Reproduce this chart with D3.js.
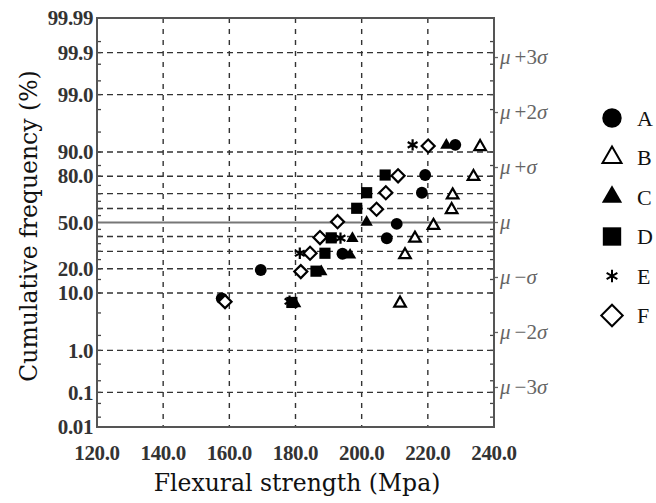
<!DOCTYPE html>
<html><head><meta charset="utf-8">
<script src="https://cdn.jsdelivr.net/npm/d3@7"></script>
<style>html,body{margin:0;padding:0;background:#fff;}svg{display:block;}
.tick{font-family:"Liberation Serif";font-weight:bold;font-size:21px;fill:#333;letter-spacing:-0.4px;}
.title{font-family:"DejaVu Serif";font-size:23.5px;fill:#111;}
.sig{font-family:"Liberation Serif";font-size:21px;fill:#666;}
.leg{font-family:"Liberation Serif";font-size:22px;fill:#111;}
</style>
</head><body>
<script>
// ---- data ----
const seriesNames = ["A","B","C","D","E","F"];
const seriesA = [[157.7,8.4],[169.5,19.4],[194.2,28.5],[207.6,38.7],[210.6,49.0],[218.2,70.6],[219.2,80.6],[228.3,92.1]];
const seriesB = [[211.6,7.1],[213.1,27.8],[216.1,38.7],[221.7,47.8],[227.2,59.2],[227.5,69.1],[233.8,79.8],[235.8,91.6]];
const seriesC = [[179.9,7.0],[187.8,18.6],[196.5,27.7],[197.2,38.6],[201.5,50.2],[225.6,92.0]];
const seriesD = [[178.9,7.3],[186.2,18.8],[188.9,28.8],[190.8,39.0],[198.5,60.2],[201.5,70.6],[207.1,80.6]];
const seriesE = [[178.2,7.6],[181.3,28.8],[193.6,38.8],[215.4,92.1]];
const seriesF = [[158.7,7.5],[181.6,18.6],[184.4,28.8],[187.4,39.2],[192.7,50.6],[204.5,59.5],[207.3,70.6],[211.0,80.2],[220.1,91.8]];
const xTicks = [120,140,160,180,200,220,240];
const xTickLabels = ["120.0","140.0","160.0","180.0","200.0","220.0","240.0"];
const yTicks = [0.01,0.1,1,10,20,50,80,90,99,99.9,99.99];
const yTickLabels = ["0.01","0.1","1.0","10.0","20.0","50.0","80.0","90.0","99.0","99.9","99.99"];
const yGrid = [0.1,1,10,20,30,40,60,70,80,90,99,99.9];
const sigmaLevels = [-3,-2,-1,0,1,2,3];
const sigmaOps = ["−3","−2","−","","+","+2","+3"];
const yMinorTicks = [0.02,0.05,0.2,0.5,2,5,15,25,35,45,55,65,75,85,95,98,99.5,99.8,99.95];

// inverse normal CDF (probability-paper transform)
function probit(p){
  const a=[-3.969683028665376e+01,2.209460984245205e+02,-2.759285104469687e+02,1.383577518672690e+02,-3.066479806614716e+01,2.506628277459239e+00];
  const b=[-5.447609879822406e+01,1.615858368580409e+02,-1.556989798598866e+02,6.680131188771972e+01,-1.328068155288572e+01];
  const c=[-7.784894002430293e-03,-3.223964580411365e-01,-2.400758277161838e+00,-2.549671010485432e+00,4.374664141464968e+00,2.938163982698783e+00];
  const d=[7.784695709041462e-03,3.224671290700398e-01,2.445134137142996e+00,3.754408661907416e+00];
  const pl=0.02425, ph=1-pl; let q,r;
  if(p<pl){q=Math.sqrt(-2*Math.log(p));return (((((c[0]*q+c[1])*q+c[2])*q+c[3])*q+c[4])*q+c[5])/((((d[0]*q+d[1])*q+d[2])*q+d[3])*q+1);}
  if(p<=ph){q=p-0.5;r=q*q;return (((((a[0]*r+a[1])*r+a[2])*r+a[3])*r+a[4])*r+a[5])*q/(((((b[0]*r+b[1])*r+b[2])*r+b[3])*r+b[4])*r+1);}
  q=Math.sqrt(-2*Math.log(1-p));return -(((((c[0]*q+c[1])*q+c[2])*q+c[3])*q+c[4])*q+c[5])/((((d[0]*q+d[1])*q+d[2])*q+d[3])*q+1);
}

const W=656,H=503;
const L=97,R=494,T=18,B=427;
const x = d3.scaleLinear().domain([120,240]).range([L,R]);
const zScale = d3.scaleLinear().domain([probit(0.0001),probit(0.9999)]).range([B,T]);
const y = pct => zScale(probit(pct/100));

const svg = d3.select("body").append("svg").attr("width",W).attr("height",H);
svg.append("rect").attr("width",W).attr("height",H).attr("fill","#fff");

// grid
const g = svg.append("g");
g.selectAll(".hg").data(yGrid).enter().append("line")
  .attr("x1",L).attr("x2",R).attr("y1",d=>y(d)).attr("y2",d=>y(d))
  .attr("stroke","#333").attr("stroke-width",1.4).attr("stroke-dasharray","6,4");
g.append("line").attr("x1",L).attr("x2",R).attr("y1",y(50)).attr("y2",y(50))
  .attr("stroke","#777").attr("stroke-width",2);
g.selectAll(".vg").data(xTicks.slice(1,-1)).enter().append("line")
  .attr("x1",d=>x(d)).attr("x2",d=>x(d)).attr("y1",T).attr("y2",B)
  .attr("stroke","#333").attr("stroke-width",1.4).attr("stroke-dasharray","5,6");

// minor ticks on inner side of left/right axes
g.selectAll(".ml").data(yMinorTicks.concat(yGrid)).enter().append("line")
  .attr("x1",L).attr("x2",L+4).attr("y1",d=>y(d)).attr("y2",d=>y(d))
  .attr("stroke","#444").attr("stroke-width",1.3);
g.selectAll(".mr").data(yMinorTicks.concat(yGrid)).enter().append("line")
  .attr("x1",R-4).attr("x2",R).attr("y1",d=>y(d)).attr("y2",d=>y(d))
  .attr("stroke","#444").attr("stroke-width",1.3);
g.selectAll(".sr").data(sigmaLevels).enter().append("line")
  .attr("x1",R).attr("x2",R+4).attr("y1",d=>zScale(d)).attr("y2",d=>zScale(d))
  .attr("stroke","#666").attr("stroke-width",1.3);

// frame
svg.append("rect").attr("x",L).attr("y",T).attr("width",R-L).attr("height",B-T)
  .attr("fill","none").attr("stroke","#555").attr("stroke-width",2);

// y tick labels
svg.selectAll(".yl").data(yTicks).enter().append("text").attr("class","tick")
  .attr("x",L-4).attr("y",d=>y(d)).attr("dy","0.34em").attr("text-anchor","end")
  .text((d,i)=>yTickLabels[i]);

// x tick labels
svg.selectAll(".xl").data(xTicks).enter().append("text").attr("class","tick")
  .attr("x",d=>x(d)).attr("y",460).attr("text-anchor","middle")
  .text((d,i)=>xTickLabels[i]);

// sigma labels
const sl = svg.selectAll(".sl").data(sigmaLevels).enter().append("text").attr("class","sig")
  .attr("x",R+6).attr("y",d=>zScale(d)).attr("dy","0.33em");
sl.append("tspan").attr("font-style","italic").text("μ");
sl.filter((d,i)=>sigmaOps[i]!=="").append("tspan").attr("dx",4).text((d)=>sigmaOps[sigmaLevels.indexOf(d)]);
sl.filter((d,i)=>sigmaOps[i]!=="").append("tspan").attr("font-style","italic").text("σ");

// axis titles
svg.append("text").attr("class","title").attr("x",297).attr("y",491).attr("text-anchor","middle")
  .text("Flexural strength (Mpa)");
svg.append("text").attr("class","title").attr("transform","translate(37,226) rotate(-90)").attr("text-anchor","middle")
  .text("Cumulative frequency (%)");

// markers
const styles = {
  A:{type:d3.symbolCircle, size:110, fill:"#000", stroke:"none"},
  B:{type:d3.symbolTriangle, size:58, fill:"#fff", stroke:"#000"},
  C:{type:d3.symbolTriangle, size:66, fill:"#000", stroke:"none"},
  D:{type:d3.symbolSquare, size:125, fill:"#000", stroke:"none"},
  E:{type:d3.symbolAsterisk, size:90, fill:"none", stroke:"#000"},
  F:{type:d3.symbolSquare, size:85, fill:"#fff", stroke:"#000", rot:45}
};
const allSeries = [seriesA,seriesB,seriesC,seriesD,seriesE,seriesF];
const drawOrder = [3,2,0,1,4,5];
drawOrder.forEach(si=>{
  const name = seriesNames[si], st = styles[name];
  svg.append("g").selectAll("path").data(allSeries[si]).enter().append("path")
    .attr("d", d3.symbol().type(st.type).size(st.size))
    .attr("transform", d=>`translate(${x(d[0])},${y(d[1])}) rotate(${st.rot||0})`)
    .attr("fill", st.fill).attr("stroke", st.stroke).attr("stroke-width", 2.2);
});

// legend
const leg = svg.append("g");
seriesNames.forEach((name,i)=>{
  const st = styles[name], cy = 118 + i*39.5;
  const scale = name==="E" ? 1.2 : 2.7;
  leg.append("path").attr("d", d3.symbol().type(st.type).size(st.size*scale))
    .attr("transform",`translate(612,${cy}) rotate(${st.rot||0})`)
    .attr("fill",st.fill).attr("stroke",st.stroke).attr("stroke-width",2);
  leg.append("text").attr("class","leg").attr("x",637).attr("y",cy).attr("dy","0.35em").text(name);
});
</script>
</body></html>
